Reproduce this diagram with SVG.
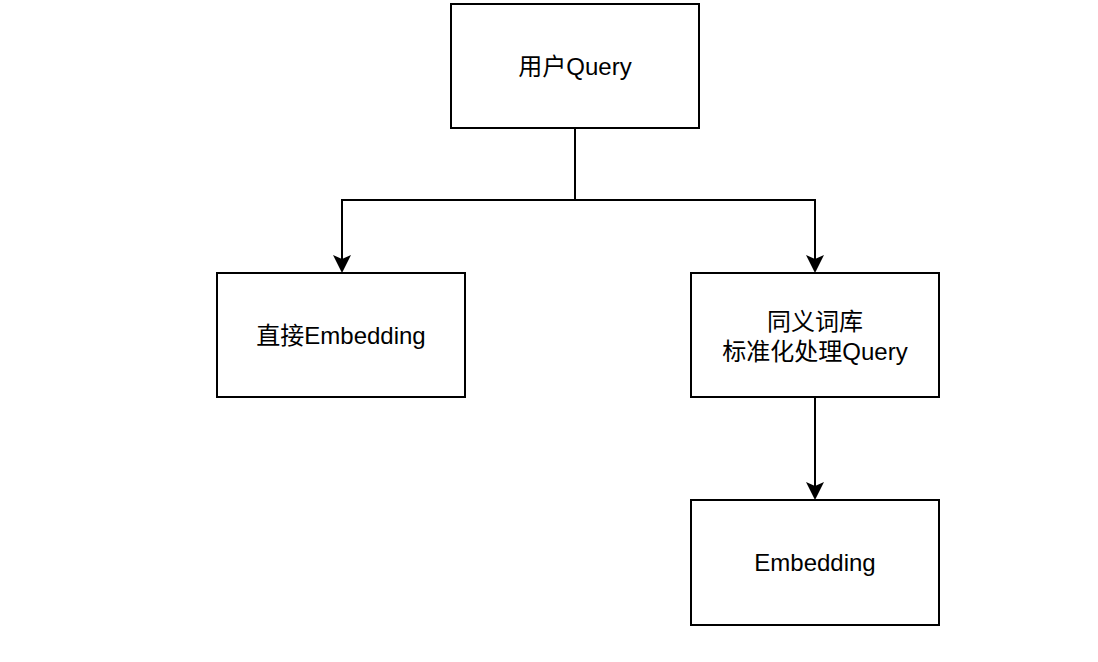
<svg xmlns="http://www.w3.org/2000/svg" width="1098" height="662" viewBox="0 0 1098 662">
<defs>
<style>
.box{fill:#ffffff;stroke:#000000;stroke-width:2}
.lbl{font-family:"Liberation Sans","Noto Sans CJK SC",sans-serif;font-size:24px;fill:#000000;text-anchor:middle;dominant-baseline:central}
.edge{fill:none;stroke:#000000;stroke-width:2;marker-end:url(#arr)}
</style>
<marker id="arr" viewBox="0 0 18 18" refX="7" refY="9" markerWidth="18" markerHeight="18" orient="auto" markerUnits="userSpaceOnUse">
<path d="M0,0 L18,9 L0,18 L4,9 Z" fill="#000"/>
</marker>
</defs>
<rect width="1098" height="662" fill="#ffffff"/>
<g id="connectors">
<path class="edge" d="M575,128 V200 H342 V262"/>
<path class="edge" d="M575,200 H815 V262"/>
<path class="edge" d="M815,397 V489"/>
</g>
<g id="node-query">
<rect class="box" x="451" y="4" width="248" height="124"/>
<text class="lbl" x="575" y="66">用户Query</text>
</g>
<g id="node-direct">
<rect class="box" x="217" y="273" width="248" height="124"/>
<text class="lbl" x="341" y="335">直接Embedding</text>
</g>
<g id="node-synonym">
<rect class="box" x="691" y="273" width="248" height="124"/>
<text class="lbl" x="815" y="321">同义词库</text>
<text class="lbl" x="815" y="351">标准化处理Query</text>
</g>
<g id="node-embedding">
<rect class="box" x="691" y="500" width="248" height="125"/>
<text class="lbl" x="815" y="562">Embedding</text>
</g>
</svg>
